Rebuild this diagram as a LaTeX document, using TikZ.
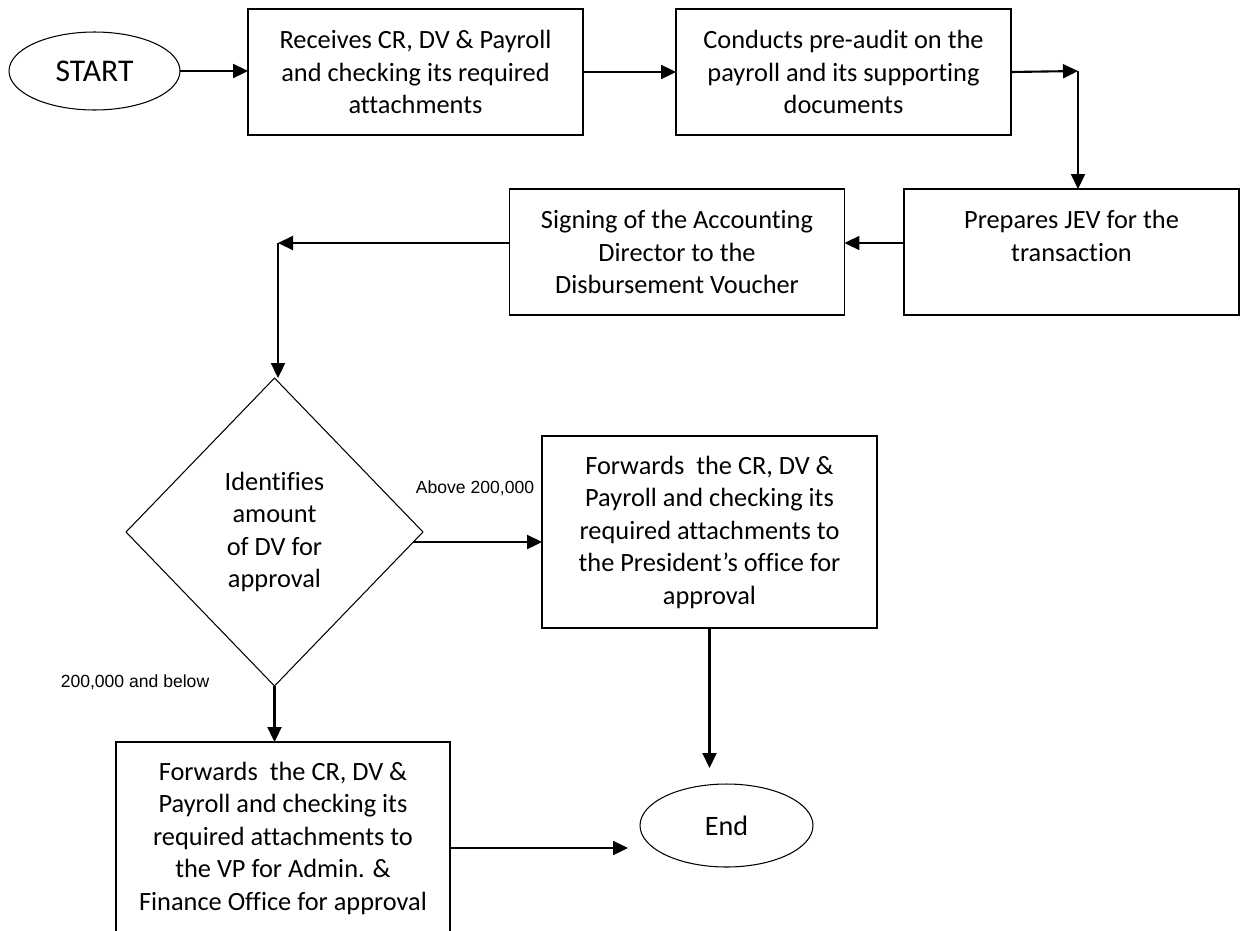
\documentclass[tikz,border=0pt]{standalone}
\usepackage{fontspec}
\setmainfont{Carlito}[Ligatures={TeX,NoCommon}]
\newfontfamily\labelfont{Liberation Sans}
\usetikzlibrary{shapes.geometric,arrows.meta,calc}

\begin{document}
\begin{tikzpicture}[
	x=0.02cm, y=-0.02cm,
	box/.style={draw, line width=0.8pt, align=center, minimum width=6.7cm, minimum height=2.52cm, inner sep=0pt, outer sep=0pt, font=\fontsize{15}{18.5}\selectfont},
	tall/.style={box, minimum height=3.84cm},
	term/.style={draw, ellipse, line width=0.6pt, inner sep=0pt, outer sep=0pt},
	decide/.style={draw, diamond, line width=0.6pt, align=center, minimum width=5.94cm, minimum height=6.16cm, inner sep=0pt, outer sep=0pt, font=\fontsize{15}{18.5}\selectfont},
	arr/.style={line width=1.2pt, -{Triangle[length=0.3cm, width=0.28cm]}},
	cond/.style={font=\labelfont\fontsize{10}{12}\selectfont},
	]
	\useasboundingbox (0,0) rectangle (1240,930);
	
	%terminals
	\node[term, minimum width=3.42cm, minimum height=1.56cm, font=\fontsize{18}{22}\selectfont] (start) at (94.5,71) {START};
	\node[term, minimum width=3.46cm, minimum height=1.66cm, font=\fontsize{16}{20}\selectfont] (end) at (726.5,825.5) {End};
	
	%steps
	\node[box] (box1) at (415.5,72) {Receives CR, DV \& Payroll\\and checking its required\\attachments};
	\node[box] (box2) at (843.5,72) {Conducts pre-audit on the\\payroll and its supporting\\documents};
	\node[box] (box3) at (1071.5,252) {Prepares JEV for the\\transaction\\\mbox{}};
	\node[box] (box4) at (677,252) {Signing of the Accounting\\Director to the\\Disbursement Voucher};
	\node[decide] (dia) at (274.5,532) {Identifies\\amount\\of DV for\\approval};
	\node[tall] (pres) at (709.5,532) {Forwards\ \ the CR, DV \&\\Payroll and checking its\\required attachments to\\the President’s office for\\approval};
	\node[tall, minimum width=6.68cm] (vp) at (283,838) {Forwards\ \ the CR, DV \&\\Payroll and checking its\\required attachments to\\the VP for Admin. \&\\Finance Office for approval};
	
	%conditions
	\node[cond] (hi) at (475,488) {Above 200,000};
	\node[cond] (lo) at (135,682) {200,000 and below};
	
	%corners
	\coordinate (c1) at (1078,71);
	\coordinate (c2) at (278,243);
	\coordinate (d1) at ($(dia.east)!0.065!(dia.south)$);
	\coordinate (v1) at ($(vp.east)+(0,10)$);
	
	%arrows
	\draw[arr] (start.east) -- (start.east -| box1.west);
	\draw[arr] (box1.east) -- (box2.west);
	\draw[arr] (box2.east) -- (c1);
	\draw[arr] (c1) -- (c1 |- box3.north);
	\draw[arr] ($(box3.west)+(0,-9)$) -- ($(box4.east)+(0,-9)$);
	\draw[arr] ($(box4.west)+(0,-9)$) -- (c2);
	\draw[arr] (c2) -- (c2 |- dia.north);
	\draw[arr] (d1) -- (d1 -| pres.west);
	\draw[arr] (dia.south) -- (dia.south |- vp.north);
	\draw[arr, shorten >=0.32cm] (pres.south) -- (pres.south |- end.north);
	\draw[arr, shorten >=0.24cm] (v1) -- (v1 -| end.west);
\end{tikzpicture}
\end{document}
